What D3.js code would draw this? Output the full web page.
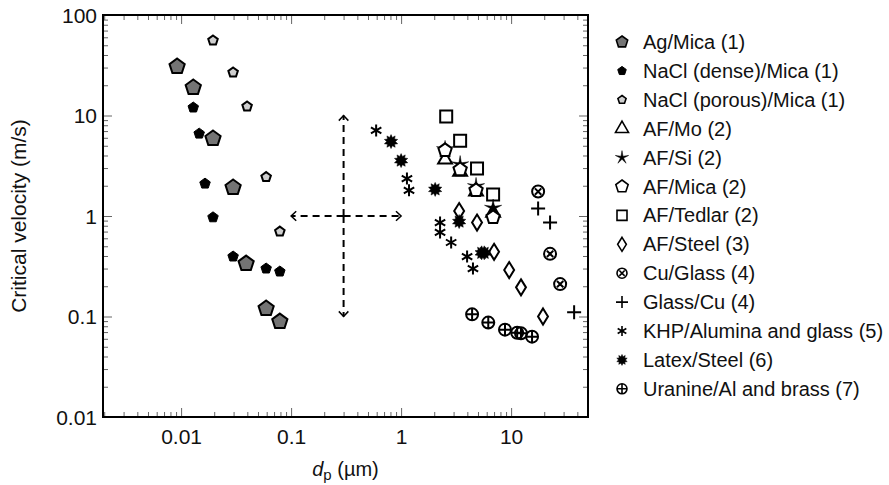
<!DOCTYPE html>
<html>
<head>
<meta charset="utf-8">
<script src="https://cdn.jsdelivr.net/npm/d3@7"></script>
<style>
  body { margin: 0; background: #fff; }
  svg { display: block; }
  text { font-family: "Liberation Sans", Arial, sans-serif; fill: #111; }
</style>
</head>
<body>
<svg id="chart" width="889" height="485"></svg>
<script>
// ---- data ----
const xTickValues = [0.01, 0.1, 1, 10];
const xTickLabels = ["0.01", "0.1", "1", "10"];
const yTickValues = [0.01, 0.1, 1, 10, 100];
const yTickLabels = ["0.01", "0.1", "1", "10", "100"];

const seriesNames = [
  "Ag/Mica (1)", "NaCl (dense)/Mica (1)", "NaCl (porous)/Mica (1)",
  "AF/Mo (2)", "AF/Si (2)", "AF/Mica (2)", "AF/Tedlar (2)", "AF/Steel (3)",
  "Cu/Glass (4)", "Glass/Cu (4)", "KHP/Alumina and glass (5)",
  "Latex/Steel (6)", "Uranine/Al and brass (7)"
];

// [dp (µm), critical velocity (m/s)]
const agMica = [[0.0092, 30.7], [0.0129, 19], [0.0195, 5.9], [0.0297, 1.92], [0.039, 0.336], [0.0593, 0.12], [0.079, 0.089]];
const naclDense = [[0.0129, 12.0], [0.0146, 6.6], [0.0165, 2.1], [0.0195, 0.97], [0.0297, 0.395], [0.0593, 0.30], [0.079, 0.28]];
const naclPorous = [[0.0195, 55.7], [0.0297, 26.8], [0.0398, 12.3], [0.0593, 2.44], [0.079, 0.70]];
const afMo = [[2.51, 3.65], [3.44, 2.75], [4.8, 1.75], [6.86, 1.08]];
const afSi = [[2.51, 4.6], [3.44, 3.25], [4.8, 1.97], [6.86, 1.2]];
const afMica = [[2.51, 4.5], [3.44, 2.9], [4.8, 1.8], [6.86, 0.97]];
const afTedlar = [[2.57, 9.8], [3.44, 5.6], [4.9, 2.97], [6.86, 1.64]];
const afSteel = [[3.37, 1.12], [4.9, 0.86], [7.0, 0.44], [9.6, 0.29], [12.3, 0.195], [19.5, 0.10]];
const cuGlass = [[17.6, 1.75], [22.6, 0.42], [27.9, 0.21]];
const glassCu = [[17.6, 1.19], [22.6, 0.86], [37.4, 0.11]];
const khp = [[0.593, 7.1], [1.13, 2.36], [1.18, 1.8], [2.26, 0.86], [2.26, 0.686], [2.85, 0.545], [3.98, 0.395], [4.5, 0.30]];
const latex = [[0.81, 5.5], [1.0, 3.56], [2.04, 1.84], [3.37, 0.88], [5.4, 0.43], [5.7, 0.43]];
const uranine = [[4.42, 0.105], [6.2, 0.087], [8.8, 0.074], [11.35, 0.069], [12.3, 0.068], [15.5, 0.063]];

// dashed crosshair annotation: centre and the four arrow tips
const arrowCentre = [0.3, 1];
const arrowTips = [[0.1, 1], [1, 1], [0.3, 10], [0.3, 0.1]];

const seriesData = [agMica, naclDense, naclPorous, afMo, afSi, afMica, afTedlar,
                    afSteel, cuGlass, glassCu, khp, latex, uranine];

// ---- marker styles ----
const styles = [
  { shape: "pentagon", r: 8, fill: "#747474", sw: 2, lr: 6 },
  { shape: "pentagon", r: 5.5, fill: "#000", sw: 1, lr: 4.5 },
  { shape: "pentagon", r: 5, fill: "#cfcfcf", sw: 2, lr: 4.3 },
  { shape: "triangle", r: 8, fill: "none", sw: 2, lr: 7.5 },
  { shape: "star", r: 9, fill: "#000", sw: 0.5, lr: 7 },
  { shape: "pentagon", r: 7, fill: "#fff", sw: 2, lr: 6.5 },
  { shape: "square", r: 6, fill: "none", sw: 2, lr: 5 },
  { shape: "diamond", r: 8, fill: "none", sw: 2, lr: 7 },
  { shape: "circlex", r: 6, fill: "none", sw: 2, lr: 5 },
  { shape: "plus", r: 7, fill: "none", sw: 2, lr: 6 },
  { shape: "asterisk", r: 6, fill: "none", sw: 2, lr: 5 },
  { shape: "burst", r: 7, fill: "#000", sw: 0.5, lr: 5.5 },
  { shape: "circleplus", r: 6, fill: "none", sw: 2, lr: 5 }
];

function poly(n, r, rot) {
  const pts = d3.range(n).map(k => {
    const a = rot + k * 2 * Math.PI / n;
    return [r * Math.cos(a), r * Math.sin(a)];
  });
  return "M" + pts.map(p => p.join(",")).join("L") + "Z";
}
function starPath(n, r, ri) {
  const pts = d3.range(2 * n).map(k => {
    const a = -Math.PI / 2 + k * Math.PI / n;
    const rr = k % 2 ? ri : r;
    return [rr * Math.cos(a), rr * Math.sin(a)];
  });
  return "M" + pts.map(p => p.join(",")).join("L") + "Z";
}
function shapePath(shape, r) {
  const c = r * 0.7071;
  switch (shape) {
    case "pentagon": return poly(5, r, -Math.PI / 2);
    case "triangle": return poly(3, r, -Math.PI / 2);
    case "square": return `M${-r},${-r}H${r}V${r}H${-r}Z`;
    case "diamond": return `M0,${-r}L${r * 0.62},0L0,${r}L${-r * 0.62},0Z`;
    case "star": return starPath(5, r, r * 0.24);
    case "burst": return starPath(10, r, r * 0.62);
    case "plus": return `M${-r},0H${r}M0,${-r}V${r}`;
    case "asterisk": {
      const s = r * 0.866, h = r * 0.5;
      return `M0,${-r}V${r}M${-s},${-h}L${s},${h}M${-s},${h}L${s},${-h}`;
    }
    case "circlex":
      return `M${r},0A${r},${r} 0 1,1 ${-r},0A${r},${r} 0 1,1 ${r},0` +
        `M${-c * 0.75},${-c * 0.75}L${c * 0.75},${c * 0.75}M${-c * 0.75},${c * 0.75}L${c * 0.75},${-c * 0.75}`;
    case "circleplus":
      return `M${r},0A${r},${r} 0 1,1 ${-r},0A${r},${r} 0 1,1 ${r},0` +
        `M${-r},0H${r}M0,${-r}V${r}`;
  }
}

// ---- layout ----
const svg = d3.select("#chart");
const plot = { left: 103, right: 588, top: 15, bottom: 417 };

const x = d3.scaleLog().domain([0.00195, 50]).range([plot.left, plot.right]);
const y = d3.scaleLog().domain([0.01, 100]).range([plot.bottom, plot.top]);

// minor tick values
function minors(lo, hi) {
  const out = [];
  for (let e = Math.floor(Math.log10(lo)); e <= Math.ceil(Math.log10(hi)); e++) {
    for (let m = 2; m <= 9; m++) {
      const v = m * Math.pow(10, e);
      if (v > lo * 1.001 && v < hi * 0.999) out.push(v);
    }
  }
  return out;
}
const xMinor = minors(0.00195, 50);
const yMinor = minors(0.01, 100);

const tickColor = "#666";
const majorLen = 9, minorLen = 5;

// axes: inward ticks on all four sides
function drawAxis(axisFn, scale, values, len, transform, labels) {
  const g = svg.append("g").attr("transform", transform)
    .call(axisFn(scale).tickValues(values).tickSizeInner(-len).tickSizeOuter(0)
      .tickFormat((d, i) => labels ? labels[i] : ""));
  g.select(".domain").remove();
  g.selectAll(".tick line").attr("stroke", tickColor).attr("stroke-width", 1);
  return g;
}
const xb = drawAxis(d3.axisBottom, x, xTickValues, majorLen, `translate(0,${plot.bottom})`, xTickLabels);
drawAxis(d3.axisBottom, x, xMinor, minorLen, `translate(0,${plot.bottom})`);
drawAxis(d3.axisTop, x, xTickValues, majorLen, `translate(0,${plot.top})`);
drawAxis(d3.axisTop, x, xMinor, minorLen, `translate(0,${plot.top})`);
const yl = drawAxis(d3.axisLeft, y, yTickValues, majorLen, `translate(${plot.left},0)`, yTickLabels);
drawAxis(d3.axisLeft, y, yMinor, minorLen, `translate(${plot.left},0)`);
drawAxis(d3.axisRight, y, yTickValues, majorLen, `translate(${plot.right},0)`);
drawAxis(d3.axisRight, y, yMinor, minorLen, `translate(${plot.right},0)`);

xb.selectAll(".tick text").attr("y", 12).attr("dy", "0.71em")
  .style("font-size", "21px").style("font-family", "Liberation Sans, Arial, sans-serif").attr("fill", "#111");
yl.selectAll(".tick text").attr("x", -6).attr("dy", "0.35em")
  .style("font-size", "21px").style("font-family", "Liberation Sans, Arial, sans-serif").attr("fill", "#111");

// frame
svg.append("rect")
  .attr("x", plot.left).attr("y", plot.top)
  .attr("width", plot.right - plot.left).attr("height", plot.bottom - plot.top)
  .attr("fill", "none").attr("stroke", "#000").attr("stroke-width", 2);

// axis titles
svg.append("text")
  .attr("transform", `translate(26,${(plot.top + plot.bottom) / 2}) rotate(-90)`)
  .attr("text-anchor", "middle")
  .style("font-size", "21px")
  .text("Critical velocity (m/s)");

const xt = svg.append("text")
  .attr("x", (plot.left + plot.right) / 2).attr("y", 476)
  .attr("text-anchor", "middle")
  .style("font-size", "20px");
xt.append("tspan").style("font-style", "italic").text("d");
xt.append("tspan").attr("dy", 4).style("font-size", "15px").text("p");
xt.append("tspan").attr("dy", -4).text(" (µm)");

// dashed crosshair with open arrow heads
const ann = svg.append("g");
arrowTips.forEach(t => {
  const x0 = x(arrowCentre[0]), y0 = y(arrowCentre[1]);
  const x1 = x(t[0]), y1 = y(t[1]);
  ann.append("line")
    .attr("x1", x0).attr("y1", y0).attr("x2", x1).attr("y2", y1)
    .attr("stroke", "#000").attr("stroke-width", 2).attr("stroke-dasharray", "7,5");
  const ang = Math.atan2(y1 - y0, x1 - x0);
  const L = 7, spread = 0.75;
  const p1 = [x1 - L * Math.cos(ang - spread), y1 - L * Math.sin(ang - spread)];
  const p2 = [x1 - L * Math.cos(ang + spread), y1 - L * Math.sin(ang + spread)];
  ann.append("path")
    .attr("d", `M${p1}L${x1},${y1}L${p2}`)
    .attr("fill", "none").attr("stroke", "#000").attr("stroke-width", 1.5);
});

// points
seriesData.forEach((data, i) => {
  const st = styles[i];
  svg.append("g").selectAll("path")
    .data(data).enter().append("path")
    .attr("transform", d => `translate(${x(d[0])},${y(d[1])})`)
    .attr("d", shapePath(st.shape, st.r))
    .attr("fill", st.fill)
    .attr("stroke", "#000")
    .attr("stroke-width", st.sw)
    .attr("stroke-linejoin", "miter");
});

// legend
const legend = svg.append("g").attr("transform", "translate(622,42)");
const rowH = 28.9;
seriesNames.forEach((name, i) => {
  const st = styles[i];
  const row = legend.append("g").attr("transform", `translate(0,${i * rowH})`);
  row.append("path")
    .attr("d", shapePath(st.shape, st.lr))
    .attr("fill", st.fill)
    .attr("stroke", "#000")
    .attr("stroke-width", st.sw === 2 ? 1.6 : st.sw);
  row.append("text")
    .attr("x", 21).attr("dy", "0.35em")
    .style("font-size", "20px")
    .text(name);
});
</script>
</body>
</html>
